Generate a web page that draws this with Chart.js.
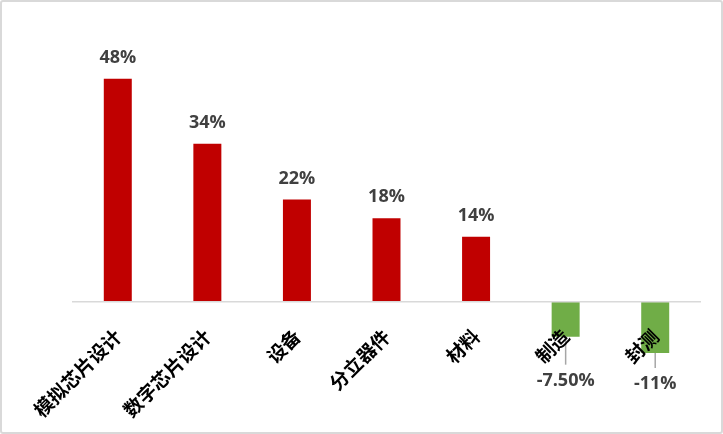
<!DOCTYPE html>
<html>
<head>
<meta charset="utf-8">
<script src="https://cdn.jsdelivr.net/npm/chart.js@4"></script>
<style>
  html, body { margin: 0; padding: 0; background: #fff; }
  #wrap {
    width: 723px; height: 434px; box-sizing: border-box;
    border: 2px solid #d9d9d9; border-radius: 3px; background: #fff;
  }
  canvas { display: block; }
</style>
</head>
<body>
<div id="wrap"><canvas id="chart" width="719" height="430"></canvas></div>
<script>
var categories = ['模拟芯片设计', '数字芯片设计', '设备', '分立器件', '材料', '制造', '封测'];
var growth = [48, 34, 22, 18, 14, -7.5, -11];
var valueLabels = ['48%', '34%', '22%', '18%', '14%', '-7.50%', '-11%'];

var RED = '#C00000';
var GREEN = '#70AD47';

// 数据标签：正值在柱顶上方，负值在柱底下方并带引线
var barLabels = {
    id: 'barLabels',
    afterDatasetsDraw: function (chart, args, opts) {
        var ctx = chart.ctx;
        var meta = chart.getDatasetMeta(0);
        ctx.save();
        ctx.font = 'bold 18px "Open Sans"';
        ctx.fillStyle = '#404040';
        ctx.textAlign = 'center';
        ctx.textBaseline = 'alphabetic';
        meta.data.forEach(function (bar, i) {
            var v = growth[i];
            if (v >= 0) {
                ctx.fillText(valueLabels[i], bar.x, bar.y - 16);
            } else {
                var drop = opts.negDrop[i] || 36;
                ctx.strokeStyle = '#a6a6a6';
                ctx.lineWidth = 1.5;
                ctx.beginPath();
                ctx.moveTo(bar.x, bar.y);
                ctx.lineTo(bar.x, bar.y + drop - 21);
                ctx.stroke();
                ctx.fillText(valueLabels[i], bar.x, bar.y + drop);
            }
        });
        ctx.restore();
    }
};

new Chart(document.getElementById('chart'), {
    type: 'bar',
    data: {
        labels: categories,
        datasets: [{
            data: growth,
            backgroundColor: growth.map(function (v) { return v >= 0 ? RED : GREEN; }),
            borderWidth: 0,
            categoryPercentage: 1,
            barPercentage: 0.3125
        }]
    },
    options: {
        responsive: false,
        animation: false,
        layout: { padding: { left: 71, right: 21, top: 21, bottom: 14 } },
        plugins: {
            legend: { display: false },
            tooltip: { enabled: false },
            barLabels: { negDrop: { 5: 49, 6: 36 } }
        },
        scales: {
            x: {
                position: { y: 0 },
                grid: { display: false, drawTicks: false },
                border: { display: true, color: '#d9d9d9', width: 1.5, z: 1 },
                ticks: {
                    z: 1,
                    autoSkip: false,
                    minRotation: 45,
                    maxRotation: 45,
                    padding: 23,
                    labelOffset: 0,
                    color: '#000',
                    font: { family: '"Noto Sans CJK SC"', size: 19, weight: 'bold' }
                }
            },
            y: {
                display: false,
                min: -25,
                max: 60
            }
        }
    },
    plugins: [barLabels]
});
</script>
</body>
</html>
